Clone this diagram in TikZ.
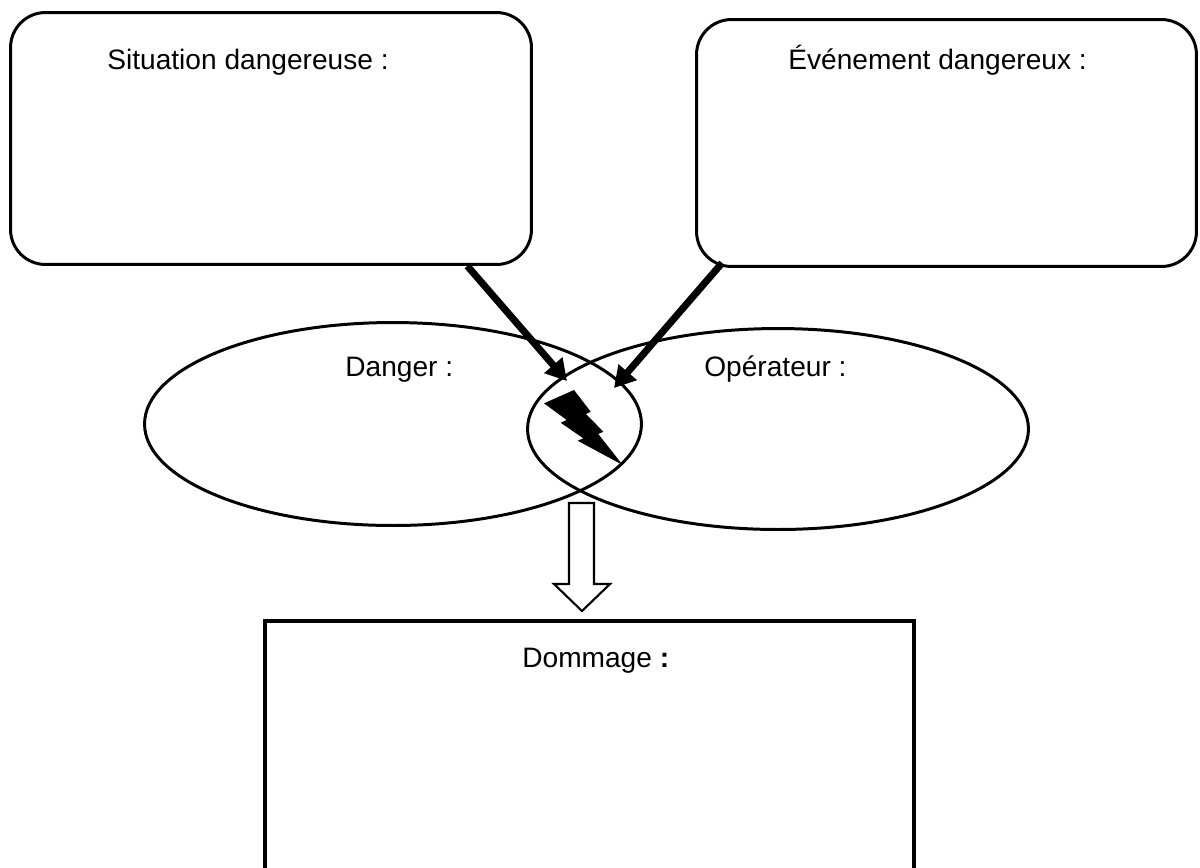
\documentclass[tikz,border=0pt]{standalone}
\usepackage{fontspec}
\setmainfont{Liberation Sans}
\usetikzlibrary{shapes.geometric,arrows.meta}

\tikzset{
    cadre/.style={draw, line width=1.7pt, rounded corners=0.7cm, inner sep=0pt},
    zone/.style={draw, ellipse, line width=1.7pt, inner sep=0pt},
    etiquette/.style={anchor=base west, inner sep=0pt, font=\fontsize{16}{19}\selectfont},
    fleche/.style={line width=4pt, -{Triangle[length=0.42cm,width=0.46cm]}},
}

\begin{document}
\begin{tikzpicture}[x=0.02cm, y=-0.02cm]
    \clip (0,0) rectangle (1200,867);
    % les deux cadres du haut
    \node[cadre, minimum width=10.42cm, minimum height=5.04cm] (sitdang) at (271,138.5) {};
    \node[etiquette] (t-sitdang) at (107,69) {Situation dangereuse :};
    \node[cadre, minimum width=10cm, minimum height=4.94cm] (evtdang) at (946.5,143) {};
    \node[etiquette] (t-evtdang) at (788,69) {Événement dangereux :};
    % danger et operateur
    \node[zone, minimum width=9.94cm, minimum height=4.06cm] (danger) at (393,424) {};
    \node[etiquette] (t-danger) at (345,376.5) {Danger :};
    \node[zone, minimum width=10.02cm, minimum height=4.02cm] (operateur) at (778,429) {};
    \node[etiquette] (t-operateur) at (704,376.5) {Opérateur :};
    % l'eclair
    \fill (544,403.3) -- (574,390) -- (590.7,411.7) -- (586,414) -- (603.3,431.7) -- (598.3,434)
        -- (622.7,465) -- (577.7,440.7) -- (583.3,438.3) -- (560.7,422.7) -- (566.7,420) -- cycle;
    \coordinate (impact-a) at (567,381);
    \coordinate (impact-b) at (614,388);
    \draw[fleche] (sitdang.-33.4) -- (impact-a);
    \draw[fleche] ([shift={(27,-5)}]evtdang.south west) -- (impact-b);
    % dommage
    \node[draw, line width=2.1pt, inner sep=0pt, minimum width=12.98cm, minimum height=5.58cm] (dommage) at (589.5,760.5) {};
    \node[etiquette] (t-dommage) at (522,667) {Dommage \textbf{:}};
    \draw[line width=1.2pt, fill=white] (569,503) -- (569,584) -- (554,584) -- (582,611)
        -- (610,584) -- (594,584) -- (594,503) -- cycle;
\end{tikzpicture}
\end{document}
